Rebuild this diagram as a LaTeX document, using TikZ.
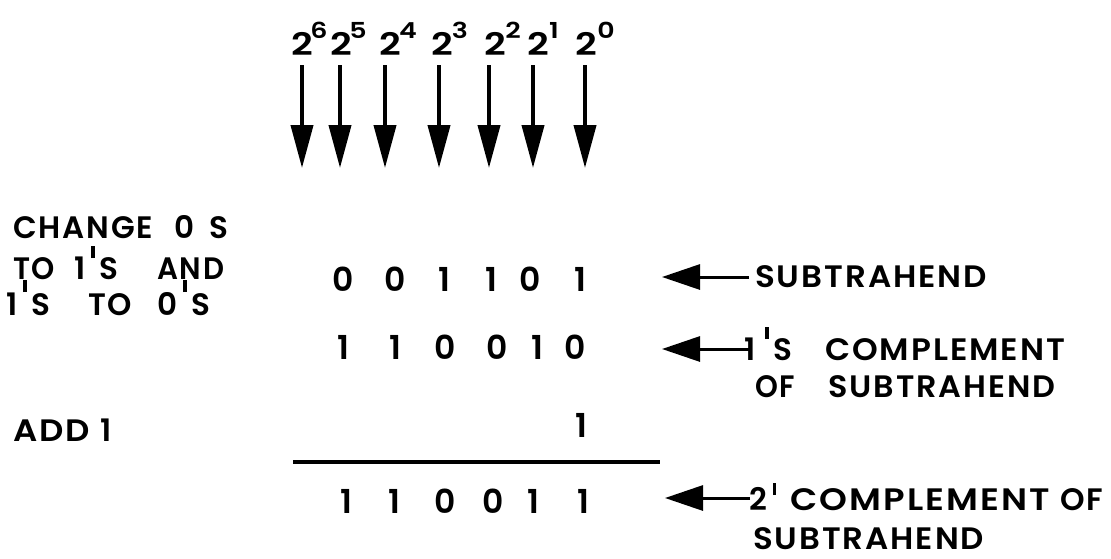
\documentclass[tikz,border=0pt]{standalone}
\usepackage{fontspec}
\usepackage{graphicx}
\usetikzlibrary{arrows.meta}
\newfontfamily\lettering[LetterSpace=6, BoldFont={Poppins SemiBold}]{Poppins}
% raised stroke used as the apostrophe in the lettering
\newcommand\tick[1][21pt]{\kern6pt\smash{\raisebox{#1}{\rule{3.4pt}{12.5pt}}}\kern5pt}
% a word of lettering stretched to run from x0 to x1 on a given baseline
\newcommand\fitword[5]{%
  \pgfmathsetlengthmacro\wordwidth{(#3)-(#2)}%
  \node[lbl] (#1) at (#2,#4) {\resizebox{\wordwidth}{\height}{#5}};}
% wide figures of the place-value headings
\newcommand\widefig[1]{\scalebox{1.22}[1]{#1}}
\begin{document}
\begin{tikzpicture}[x=1pt,y=-1pt,
  lbl/.style={inner sep=0pt, anchor=base west,
    font=\lettering\bfseries\fontsize{31}{36}\selectfont},
  lblc/.style={lbl, anchor=base},
  digit/.style={inner sep=0pt, anchor=base,
    font=\lettering\bfseries\fontsize{33}{36}\selectfont},
  basetwo/.style={inner sep=0pt, anchor=base,
    font=\lettering\bfseries\fontsize{31}{36}\selectfont},
  expo/.style={inner sep=0pt, anchor=base,
    font=\lettering\bfseries\fontsize{22}{24}\selectfont},
  downarrow/.style={line width=4pt, -{Triangle[length=43pt,width=22pt]}},
  pointer/.style={line width=3pt, -{Triangle[length=38pt,width=25pt]}},
  sumrule/.style={line width=4pt}]
\useasboundingbox (0,0) rectangle (1111,558);

% place values with their arrows
\foreach \n/\bx/\ex/\ax in {6/302/319/302, 5/341/358/340, 4/390/408/385,
                            3/442/460/439, 2/495/513/489, 1/538/554/533,
                            0/586/606/585} {
  \node[basetwo] (two\n) at (\bx,55) {\widefig{2}};
  \node[expo] (exp\n) at (\ex,38) {\widefig{\n}};
  \coordinate (top\n) at (\ax,65);
  \coordinate (tip\n) at (\ax,168);
  \draw[downarrow] (top\n) -- (tip\n);
}

% steps on the left
\fitword{chgA}{13}{153}{238}{CHANGE}
\node[lblc] (chgB) at (185,238) {0};
\node[lblc] (chgC) at (219,238) {S};
\fitword{toA}{13}{55}{279}{TO}
\node[lbl] (toB) at (74,279) {1\tick S};
\fitword{toC}{157}{224}{279}{AND}
\node[lbl] (onesA) at (6,315) {1\tick[23pt]S};
\fitword{onesB}{88}{132}{315}{TO}
\node[lbl] (onesC) at (157,315) {0\tick[23pt]S};
\fitword{addA}{13}{90}{441}{ADD}
\node[lblc] (addB) at (106,441) {1};

% subtrahend
\foreach \d/\x [count=\i] in {0/343, 0/395, 1/444, 1/491, 0/530, 1/580}
  \node[digit] (sub\i) at (\x,291) {\d};
% one's complement
\foreach \d/\x [count=\i] in {1/343, 1/395, 0/445, 0/497, 1/537, 0/575}
  \node[digit] (one\i) at (\x,359) {\d};
% the added one
\node[digit] (carry) at (581,437) {1};
% sum rule
\coordinate (ruleL) at (293,462);
\coordinate (ruleR) at (660,462);
\draw[sumrule] (ruleL) -- (ruleR);
% two's complement
\foreach \d/\x [count=\i] in {1/346, 1/394, 0/445, 0/493, 1/533, 1/583}
  \node[digit] (twos\i) at (\x,513) {\d};

% labels on the right
\fitword{lsub}{755}{987}{287}{SUBTRAHEND}
\node[lbl] (lonesA) at (744,360) {1\kern4pt\tick S};
\fitword{lonesB}{825}{1065}{360}{COMPLEMENT}
\fitword{lofA}{755}{795}{397}{OF}
\fitword{lofB}{828}{1055}{397}{SUBTRAHEND}
\node[lbl] (ltwosA) at (749,510) {2\tick[15pt]};
\fitword{ltwosB}{790}{1050}{510}{COMPLEMENT}
\fitword{ltwosC}{1060}{1103}{510}{OF}
\fitword{ltwosD}{753}{984}{549}{SUBTRAHEND}

\coordinate (p1s) at (749,277); \coordinate (p1e) at (662,277);
\coordinate (p2s) at (749,349); \coordinate (p2e) at (662,349);
\coordinate (p3s) at (750,498); \coordinate (p3e) at (665,498);
\draw[pointer] (p1s) -- (p1e);
\draw[pointer] (p2s) -- (p2e);
\draw[pointer] (p3s) -- (p3e);
\end{tikzpicture}
\end{document}
